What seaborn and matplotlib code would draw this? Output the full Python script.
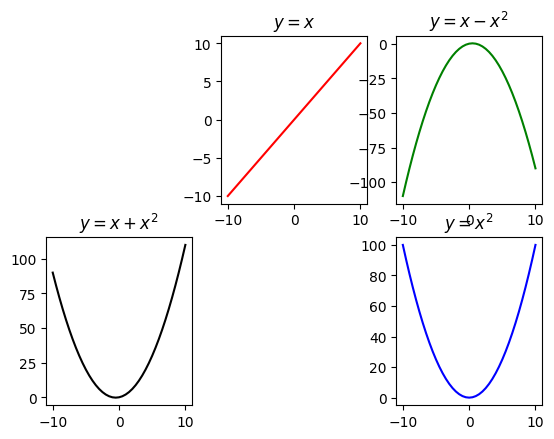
import matplotlib
matplotlib.use('Agg')
import matplotlib.pyplot as plt
import seaborn as sns

# sample points (every half unit)
x_values = [-10, -9.5, -9, -8.5, -8, -7.5, -7, -6.5, -6, -5.5, -5,
            -4.5, -4, -3.5, -3, -2.5, -2, -1.5, -1, -0.5, 0,
            0.5, 1, 1.5, 2, 2.5, 3, 3.5, 4, 4.5, 5,
            5.5, 6, 6.5, 7, 7.5, 8, 8.5, 9, 9.5, 10]
y_linear = list(x_values)
y_minus_sq = [-110, -99.75, -90, -80.75, -72, -63.75, -56, -48.75, -42,
              -35.75, -30, -24.75, -20, -15.75, -12, -8.75, -6, -3.75,
              -2, -0.75, 0, 0.25, 0, -0.75, -2, -3.75, -6, -8.75, -12,
              -15.75, -20, -24.75, -30, -35.75, -42, -48.75, -56, -63.75,
              -72, -80.75, -90]
y_plus_sq = [90, 80.75, 72, 63.75, 56, 48.75, 42, 35.75, 30, 24.75, 20,
             15.75, 12, 8.75, 6, 3.75, 2, 0.75, 0, -0.25, 0,
             0.75, 2, 3.75, 6, 8.75, 12, 15.75, 20, 24.75, 30,
             35.75, 42, 48.75, 56, 63.75, 72, 80.75, 90, 99.75, 110]
y_square = [100, 90.25, 81, 72.25, 64, 56.25, 49, 42.25, 36, 30.25, 25,
            20.25, 16, 12.25, 9, 6.25, 4, 2.25, 1, 0.25, 0,
            0.25, 1, 2.25, 4, 6.25, 9, 12.25, 16, 20.25, 25,
            30.25, 36, 42.25, 49, 56.25, 64, 72.25, 81, 90.25, 100]

panels = [
    (2, y_linear, 'red', '$y = x$'),
    (3, y_minus_sq, 'green', '$y = x - x^2$'),
    (4, y_plus_sq, 'black', '$y = x + x^2$'),
    (6, y_square, 'blue', '$y = x^2$'),
]


def main():
    fig = plt.figure(figsize=(6.4, 4.8), dpi=100)
    for pos, y, color, title in panels:
        ax = fig.add_subplot(2, 3, pos)
        sns.lineplot(x=x_values, y=y, color=color, ax=ax)
        ax.set_title(title)
    fig.savefig('out.png', bbox_inches='tight')


if __name__ == '__main__':
    main()
